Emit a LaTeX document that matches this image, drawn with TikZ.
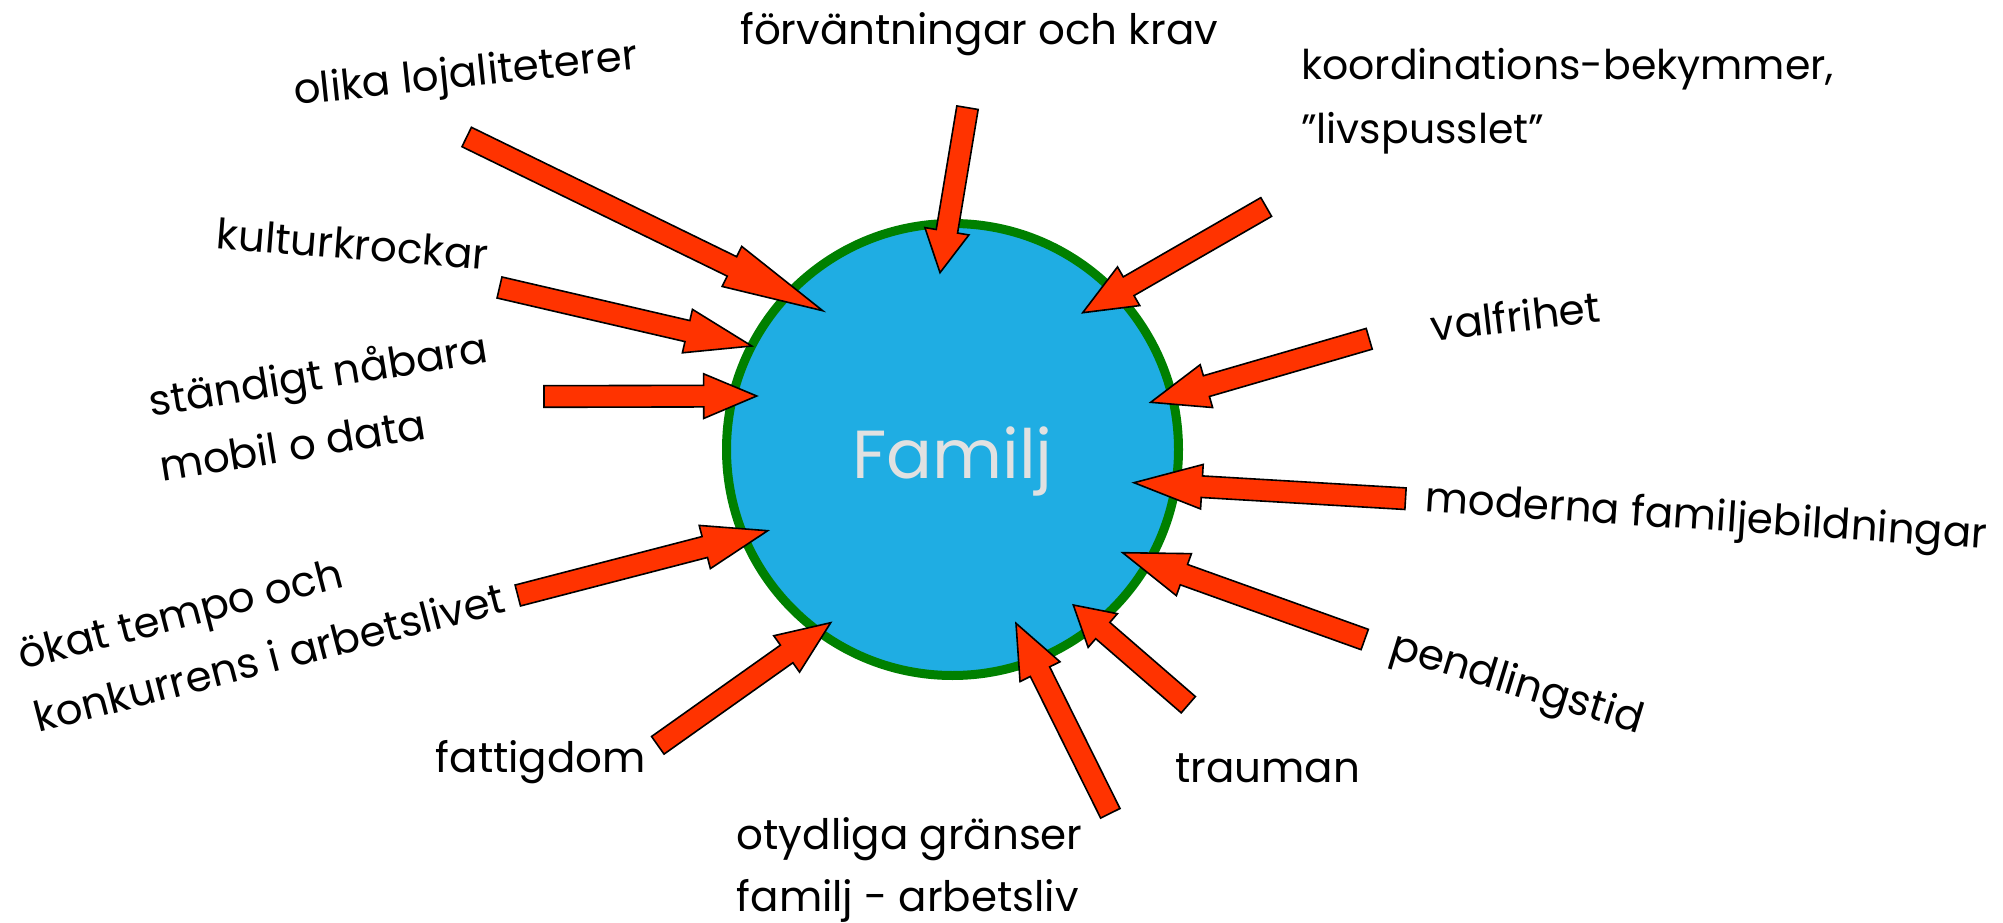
\documentclass[tikz,border=0pt]{standalone}
\usepackage{fontspec}
\setmainfont{Poppins}
\usetikzlibrary{calc}
\definecolor{famblue}{RGB}{31,173,227}
\definecolor{famgreen}{RGB}{0,128,0}
\definecolor{arrowred}{RGB}{255,51,0}
\definecolor{famtextcol}{RGB}{225,225,225}
\tikzset{
  blockarrowstyle/.style={fill=arrowred, draw=black, line width=1.6pt, line join=miter},
  lab/.style={inner sep=0pt, anchor=base west, font=\fontsize{42}{48}\selectfont, text=black},
  famcircle/.style={circle, draw=famgreen, fill=famblue, line width=9pt, minimum size=452pt, inner sep=0pt,
    font=\fontsize{68}{68}\selectfont, text=famtextcol, text height=57pt, text depth=0pt}
}
\newcommand\blockarrow[3]{%
  \coordinate (neck) at ($(#2)!#3pt!(#1)$);
  \draw[blockarrowstyle] ($(#1)!10.8pt!90:(#2)$) -- ($(neck)!10.8pt!90:(#2)$) -- ($(neck)!22.3pt!90:(#2)$) -- (#2)
     -- ($(neck)!22.3pt!-90:(#2)$) -- ($(neck)!10.8pt!-90:(#2)$) -- ($(#1)!10.8pt!-90:(#2)$) -- cycle;
}
\begin{document}
\begin{tikzpicture}[x=1pt,y=-1pt]
\useasboundingbox (0,0) rectangle (2003,923);
\node[famcircle] (fam) at (952.5,449.5) {Familj};

% labels
\node[lab] (forv) at (740,45) {förväntningar och krav};
\node[lab, rotate=6] (olika) at (295,105) {olika lojaliteterer};
\node[lab, rotate=-4.6] (kultur) at (215.6,248.3) {kulturkrockar};
\node[lab, rotate=9.2] (standigt) at (151.8,416.7) {ständigt nåbara};
\node[lab, rotate=9.2] (mobil) at (162.3,481.9) {mobil o data};
\node[lab, rotate=14.5] (okat) at (22.3,670) {ökat tempo och};
\node[lab, rotate=14.5] (konk) at (38.6,733) {konkurrens i arbetslivet};
\node[lab] (fattig) at (435.6,772) {fattigdom};
\node[lab] (otyd) at (736.6,849) {otydliga gränser};
\node[lab] (famarb) at (736.6,911) {familj - arbetsliv};
\node[lab] (trauman) at (1175,782.7) {trauman};
\node[lab, rotate=-17] (pendl) at (1388,657) {pendlingstid};
\node[lab, rotate=-3.75] (moderna) at (1424,511.7) {moderna familjebildningar};
\node[lab, rotate=6.6] (valfr) at (1432.4,341.7) {valfrihet};
\node[lab, font=\fontsize{41}{48}\selectfont] (koord) at (1301,79.3) {koordinations-bekymmer,};
\node[lab, font=\fontsize{41}{48}\selectfont] (livs) at (1301,143.3) {”livspusslet”};

% arrow end points
\coordinate (t1) at (466.7,137);   \coordinate (p1) at (822.7,310.7);
\coordinate (t2) at (967.5,107.7); \coordinate (p2) at (940,272.7);
\coordinate (t3) at (499.5,287.5); \coordinate (p3) at (751.7,346);
\coordinate (t4) at (544,396.5);   \coordinate (p4) at (756.7,396);
\coordinate (t5) at (1266.2,207);  \coordinate (p5) at (1082.7,312.7);
\coordinate (t6) at (1369.2,338.8);\coordinate (p6) at (1150.7,402.3);
\coordinate (t7) at (1405.5,498.7);\coordinate (p7) at (1134,482.7);
\coordinate (t8) at (1364.7,639.5);\coordinate (p8) at (1122.7,552.7);
\coordinate (t9) at (1188.3,704.7);\coordinate (p9) at (1073.3,605);
\coordinate (t10) at (1110.3,813.3);\coordinate (p10) at (1016,623.3);
\coordinate (t11) at (517.8,595.5);\coordinate (p11) at (767.7,530.7);
\coordinate (t12) at (657.8,745.3);\coordinate (p12) at (830.7,622.7);

\blockarrow{t1}{p1}{101}
\blockarrow{t2}{p2}{42}
\blockarrow{t3}{p3}{66}
\blockarrow{t4}{p4}{53}
\blockarrow{t5}{p5}{53}
\blockarrow{t6}{p6}{58}
\blockarrow{t7}{p7}{68}
\blockarrow{t8}{p8}{65}
\blockarrow{t9}{p9}{39}
\blockarrow{t10}{p10}{54}
\blockarrow{t11}{p11}{65}
\blockarrow{t12}{p12}{54}
\end{tikzpicture}
\end{document}
